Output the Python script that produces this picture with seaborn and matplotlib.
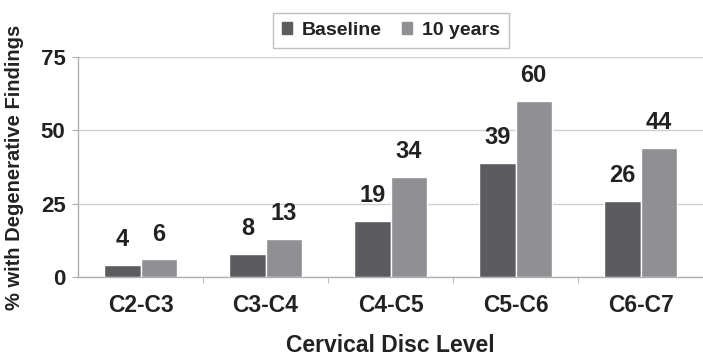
import pandas as pd
import matplotlib
matplotlib.use("Agg")
import matplotlib.pyplot as plt
import seaborn as sns

# data
levels = ["C2-C3", "C3-C4", "C4-C5", "C5-C6", "C6-C7"]
baseline = [4, 8, 19, 39, 26]
ten_years = [6, 13, 34, 60, 44]
series = ["Baseline", "10 years"]

df = pd.DataFrame({
    "Level": levels * 2,
    "Value": baseline + ten_years,
    "Group": ["Baseline"] * len(levels) + ["10 years"] * len(levels),
})

sns.set_style("white")
plt.rcParams["font.family"] = ["Liberation Sans", "DejaVu Sans"]
plt.rcParams["font.weight"] = "bold"

fig = plt.figure(figsize=(7.03, 3.57), dpi=100)
ax = fig.add_axes([0.111, 0.224, 0.889, 0.616])

palette = {"Baseline": "#5b5b60", "10 years": "#8f8f94"}
sns.barplot(data=df, x="Level", y="Value", hue="Group", hue_order=series,
            palette=palette, width=0.58, saturation=1, ax=ax, legend=False,
            zorder=3)

for cont in ax.containers:
    ax.bar_label(cont, fontsize=17, fontweight="bold", color="#222222", padding=10)

ax.set_ylim(0, 75)
ax.set_xlim(-0.5, 4.5)
ax.set_yticks([0, 25, 50, 75])
ax.yaxis.grid(True, color="#cfcfcf", linewidth=1, zorder=0)
ax.set_axisbelow(True)
for s in ["top", "right"]:
    ax.spines[s].set_visible(False)
for s in ["left", "bottom"]:
    ax.spines[s].set_color("#b0b0b0")
    ax.spines[s].set_linewidth(1)

ax.tick_params(axis="y", left=True, length=4, color="#b0b0b0", labelsize=16,
               pad=5, labelcolor="#222222")
ax.tick_params(axis="x", bottom=False, labelsize=16.5, pad=9, labelcolor="#222222")
# small separators between categories
ax.set_xticks([0.5, 1.5, 2.5, 3.5], minor=True)
ax.tick_params(axis="x", which="minor", bottom=True, length=4, color="#b0b0b0")

ax.set_xlabel("Cervical Disc Level", fontsize=16.5, fontweight="bold",
              color="#222222", labelpad=12)
ax.set_ylabel("% with Degenerative Findings", fontsize=14.5, fontweight="bold",
              color="#222222", labelpad=12)

handles = [plt.Rectangle((0, 0), 1, 1, color=palette[g]) for g in series]
leg = fig.legend(handles, series, loc="upper center", bbox_to_anchor=(0.556, 0.99),
                 ncol=2, frameon=True, fancybox=False, fontsize=14,
                 handlelength=0.55, handleheight=0.55, handletextpad=0.5,
                 columnspacing=1.0, borderpad=0.45)
leg.get_frame().set_edgecolor("#b0b0b0")
leg.get_frame().set_linewidth(1)
for t in leg.get_texts():
    t.set_fontweight("bold")
    t.set_color("#222222")

fig.savefig("out.png", dpi=100)
